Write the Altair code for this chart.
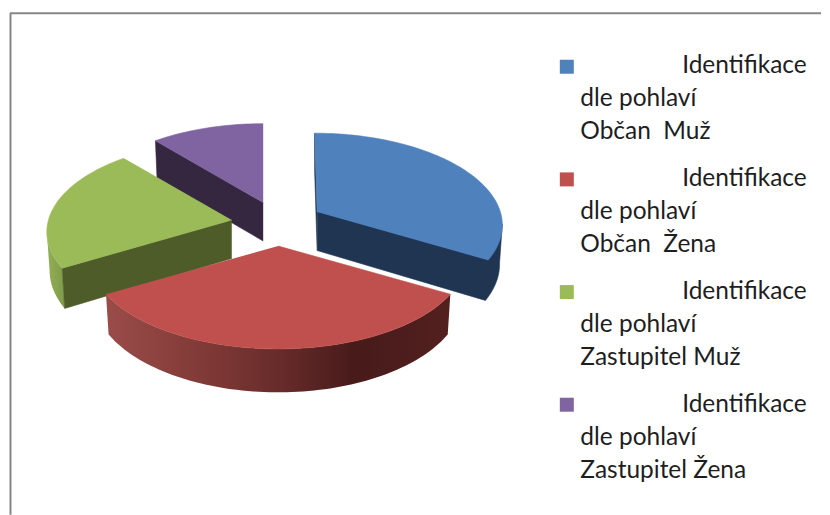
import math
import altair as alt
import pandas as pd

# ---- chart values ----
categories = [
    "Identifikace dle pohlaví Občan  Muž",
    "Identifikace dle pohlaví Občan  Žena",
    "Identifikace dle pohlaví Zastupitel Muž",
    "Identifikace dle pohlaví Zastupitel Žena",
]
shares = [33.4, 33.2, 22.2, 11.2]
line1 = ["Identifikace"] * 4
line2 = ["dle pohlaví"] * 4
line3 = ["Občan\u00a0 Muž", "Občan\u00a0 Žena", "Zastupitel Muž", "Zastupitel Žena"]
top_colors = ["#4F81BD", "#C0504D", "#9BBB59", "#8064A2"]
side_colors = ["#1F3552", "#4F1F1E", "#4D5C28", "#35273F"]

# ---- layout: a page-pixel frame for both scales ----
W, H, M = 822, 515, 8
R, S, K = 183.5, 89.4, 0.132            # perspective ellipse of the pie
# exploded slices: apex x, apex y, width factor, lean
apexes = [(317.5, 212, 1.0, 2.5), (278.5, 246, 1.015, 0), (232, 220, 1.0, 0), (263.5, 202.5, 1.0, 0)]
RIGHTMOST, LEFTMOST = 97.6, 262.4       # where the ellipse turns back

xs = alt.Scale(domain=[M, W], nice=False, zero=False)
ys = alt.Scale(domain=[H, M], nice=False, zero=False)


def rim(apex, deg):
    t = math.radians(deg)
    u, d = math.sin(t), -math.cos(t)
    w = 1 - K * d
    return apex[0] + apex[2] * R * u / w + apex[3] * d, apex[1] + S * d / w, d


def low(apex, p):
    x, y, d = p
    e = max(d, 0)
    return apex[0] + 0.985 * (x - apex[0]), y + 38.5 + 2 * e + 3 * e * e


def arc(apex, a, b):
    n = max(2, int(abs(b - a) / 1.5))
    return [rim(apex, a + (b - a) * i / n) for i in range(n + 1)]


def poly(points, fill):
    df = pd.DataFrame({"x": [p[0] for p in points], "y": [p[1] for p in points],
                       "i": list(range(len(points)))})
    style = dict(fill=fill, interpolate="linear")
    if isinstance(fill, str):
        style.update(stroke=fill, strokeWidth=0.6)
    else:
        style.update(strokeWidth=0)
    return alt.Chart(df).mark_line(**style).encode(
        x=alt.X("x:Q", scale=xs, axis=None),
        y=alt.Y("y:Q", scale=ys, axis=None),
        order="i:Q",
    )


def top(apex, a, b, fill):
    return poly([apex[:2]] + [p[:2] for p in arc(apex, a, b)], fill)


def rim_side(apex, a, b, fill):
    pts = arc(apex, a, b)
    return poly([p[:2] for p in pts] + [low(apex, p) for p in reversed(pts)], fill)


def cut_face(apex, a, fill):
    p = rim(apex, a)
    lo = low(apex, (apex[0], apex[1], 0))
    return poly([apex[:2], p[:2], low(apex, p), lo], fill)


def swept(apex, turn, a, fill):
    """Cut face and rim as one outline, from the ellipse's turning point to angle a."""
    lo = low(apex, (apex[0], apex[1], 0))
    pts = arc(apex, turn, a)
    return poly([apex[:2], pts[0][:2]] + [low(apex, p) for p in pts] + [lo], fill)


def grad(stops):
    return alt.LinearGradient(
        gradient="linear", x1=0, x2=1, y1=0, y2=0,
        stops=[alt.GradientStop(color=c, offset=o) for o, c in stops],
    )


edges = [0]
for s in shares:
    edges.append(edges[-1] + s * 3.6)
b0, b1 = edges[0], edges[1]
r0, r1 = edges[1], edges[2]
g0, g1 = edges[2], edges[3]
p0, p1 = edges[3], edges[4]
A = apexes

red_rim = grad([(0, "#9A4C49"), (0.25, "#843C39"), (0.5, "#682C2B"), (0.72, "#471B1A"), (1, "#52201F")])
green_rim = grad([(0, "#93B055"), (1, "#7F9A49")])

layers = [
    # purple
    cut_face(A[3], p0, side_colors[3]),
    top(A[3], p0, p1, top_colors[3]),
    # blue
    cut_face(A[0], b0, side_colors[0]),
    swept(A[0], RIGHTMOST, b1, side_colors[0]),
    top(A[0], b0, b1, top_colors[0]),
    # green
    rim_side(A[2], g0, LEFTMOST, green_rim),
    cut_face(A[2], g0, side_colors[2]),
    top(A[2], g0, g1, top_colors[2]),
    # red
    rim_side(A[1], r0, r1, red_rim),
    top(A[1], r0, r1, top_colors[1]),
]

# frame
frame_h = pd.DataFrame({"x": [10], "x2": [W], "y": [13]})
frame_v = pd.DataFrame({"x": [10.5], "y": [13], "y2": [H]})
frame = [
    alt.Chart(frame_h).mark_rule(color="#868686", strokeWidth=2).encode(
        x=alt.X("x:Q", scale=xs, axis=None), x2="x2:Q", y=alt.Y("y:Q", scale=ys, axis=None)),
    alt.Chart(frame_v).mark_rule(color="#868686", strokeWidth=2).encode(
        x=alt.X("x:Q", scale=xs, axis=None), y=alt.Y("y:Q", scale=ys, axis=None), y2="y2:Q"),
]

# legend
sw = pd.DataFrame({"x": [567.5] * 4, "y": [66.5 + 112.8 * k for k in range(4)],
                   "c": categories, "f": top_colors})
swatches = alt.Chart(sw).mark_square(size=196, opacity=1).encode(
    x=alt.X("x:Q", scale=xs, axis=None),
    y=alt.Y("y:Q", scale=ys, axis=None),
    color=alt.Color("f:N", scale=None, legend=None),
)
rows = []
for k in range(4):
    rows.append({"x": 683, "y": 73 + 113 * k, "t": line1[k]})
    rows.append({"x": 581, "y": 106 + 113 * k, "t": line2[k]})
    rows.append({"x": 581, "y": 139 + 113 * k, "t": line3[k]})
labels = alt.Chart(pd.DataFrame(rows)).mark_text(
    font="Lato", fontSize=24.5, align="left", baseline="alphabetic", color="#1E1E1E"
).encode(
    x=alt.X("x:Q", scale=xs, axis=None),
    y=alt.Y("y:Q", scale=ys, axis=None),
    text="t:N",
)

chart = alt.layer(*frame, *layers, swatches, labels).properties(
    width=W - M, height=H - M, padding=0, background="white"
).configure_view(stroke=None)

chart.save("out.html", embed_options={"renderer": "svg", "actions": False})
